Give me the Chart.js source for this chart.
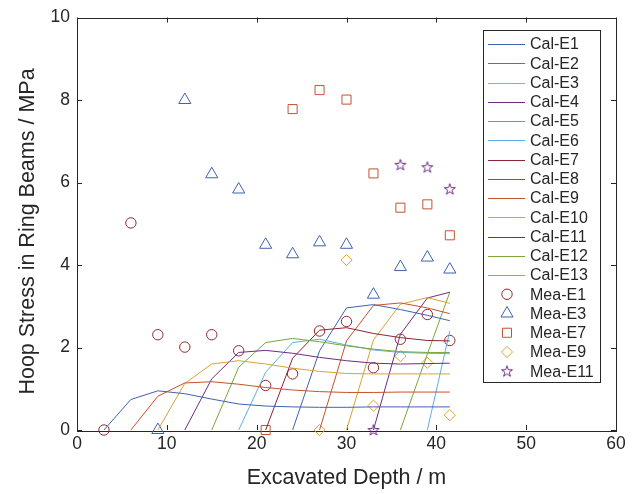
<!DOCTYPE html>
<html>
<head>
<meta charset="utf-8">
<script src="https://cdn.jsdelivr.net/npm/chart.js@4.4.1/dist/chart.umd.min.js"></script>
<style>
  html, body { margin: 0; padding: 0; background: #ffffff; }
  #wrap { width: 635px; height: 494px; }
</style>
</head>
<body>
<div id="wrap"><canvas id="c" width="635" height="494"></canvas></div>
<script>
// Excavation stages (m)
const depths = [3, 6, 9, 12, 15, 18, 21, 24, 27, 30, 33, 36, 39, 41.5];

// Calculated hoop stress (MPa) for each ring beam, aligned with depths
const calE1  = [0, 0.74, 0.95, 0.88, 0.75, 0.63, 0.58, 0.56, 0.55, 0.55, 0.56, 0.56, 0.56, 0.56];
const calE2  = [null, 0, 0.82, 1.14, 1.17, 1.11, 1.03, 0.97, 0.93, 0.91, 0.91, 0.92, 0.92, 0.92];
const calE3  = [null, null, 0, 1.13, 1.60, 1.68, 1.60, 1.50, 1.42, 1.37, 1.36, 1.36, 1.36, 1.36];
const calE4  = [null, null, null, 0, 1.24, 1.88, 1.93, 1.86, 1.76, 1.68, 1.62, 1.60, 1.61, 1.62];
const calE5  = [null, null, null, null, 0, 1.52, 2.12, 2.22, 2.14, 2.04, 1.96, 1.90, 1.88, 1.88];
const calE6  = [null, null, null, null, null, 0, 1.40, 2.12, 2.20, 2.06, 1.94, 1.88, 1.86, 1.85];
const calE7  = [null, null, null, null, null, null, 0, 1.74, 2.42, 2.48, 2.34, 2.24, 2.17, 2.16];
const calE8  = [null, null, null, null, null, null, null, 0, 1.92, 2.96, 3.04, 2.92, 2.78, 2.65];
const calE9  = [null, null, null, null, null, null, null, null, 0, 2.16, 3.02, 3.08, 2.96, 2.82];
const calE10 = [null, null, null, null, null, null, null, null, null, 0, 2.18, 3.05, 3.21, 3.07];
const calE11 = [null, null, null, null, null, null, null, null, null, null, 0, 2.32, 3.20, 3.34];
const calE12 = [null, null, null, null, null, null, null, null, null, null, null, 0, 1.84, 3.34];
const calE13 = [null, null, null, null, null, null, null, null, null, null, null, null, 0, 2.40];

// Measured hoop stress (MPa), aligned with depths
const meaE1  = [0, 5.02, 2.31, 2.01, 2.31, 1.92, 1.08, 1.36, 2.40, 2.63, 1.51, 2.20, 2.80, 2.17];
const meaE3  = [null, null, 0, 8.00, 6.20, 5.83, 4.49, 4.26, 4.55, 4.49, 3.28, 3.95, 4.18, 3.89];
const meaE7  = [null, null, null, null, null, null, 0, 7.78, 8.24, 8.01, 6.22, 5.39, 5.47, 4.72];
const meaE9  = [null, null, null, null, null, null, null, null, 0, 4.12, 0.59, 1.79, 1.63, 0.36];
const meaE11 = [null, null, null, null, null, null, null, null, null, null, 0, 6.43, 6.37, 5.84];

// Axis ticks
const xTicks = [0, 10, 20, 30, 40, 50, 60];
const yTicks = [0, 2, 4, 6, 8, 10];

const FONT = "'Liberation Sans', Arial, Helvetica, sans-serif";
const INK = '#262626';
const Y_TITLE = 'Hoop Stress in Ring Beams / MPa';

const palette = ['#3F62B0', '#C4532C', '#D9A330', '#6E2C83', '#7AA63A', '#5DAEE3', '#8E2330'];

function toPoints(values) {
  const pts = [];
  values.forEach((v, i) => { if (v !== null) pts.push({ x: depths[i], y: v }); });
  return pts;
}

// Five-point star marker
function makeStar(color) {
  const c = document.createElement('canvas');
  c.width = 14; c.height = 14;
  const g = c.getContext('2d');
  const R = 5.8, r = 2.3, cx = 7, cy = 7.4;
  g.beginPath();
  for (let k = 0; k < 10; k++) {
    const a = -Math.PI / 2 + k * Math.PI / 5;
    const rad = k % 2 === 0 ? R : r;
    const px = cx + rad * Math.cos(a), py = cy + rad * Math.sin(a);
    if (k === 0) g.moveTo(px, py); else g.lineTo(px, py);
  }
  g.closePath();
  g.strokeStyle = color;
  g.lineWidth = 1;
  g.stroke();
  return c;
}

const calSeries = [calE1, calE2, calE3, calE4, calE5, calE6, calE7, calE8, calE9, calE10, calE11, calE12, calE13];
const datasets = calSeries.map((vals, i) => ({
  label: 'Cal-E' + (i + 1),
  data: toPoints(vals),
  borderColor: palette[i % 7],
  backgroundColor: palette[i % 7],
  borderWidth: 1,
  pointRadius: 0,
  tension: 0,
  fill: false
}));

function measured(label, vals, color, style, radius) {
  return {
    label: label,
    data: toPoints(vals),
    showLine: false,
    borderColor: color,
    backgroundColor: 'rgba(0,0,0,0)',
    pointStyle: style,
    pointRadius: radius,
    pointHoverRadius: radius,
    pointBorderWidth: 1,
    pointBorderColor: color,
    pointBackgroundColor: 'rgba(0,0,0,0)',
    clip: false
  };
}

datasets.push(measured('Mea-E1', meaE1, '#8E2A2E', 'circle', 5.2));
datasets.push(measured('Mea-E3', meaE3, '#3F62B0', 'triangle', 7));
datasets.push(measured('Mea-E7', meaE7, '#C4532C', 'rect', 6.4));
datasets.push(measured('Mea-E9', meaE9, '#D9A330', 'rectRot', 5.6));
datasets.push(measured('Mea-E11', meaE11, '#6E2C83', makeStar('#6E2C83'), 6));

// Boxed axes with inward tick marks on all four sides, plus the y-axis title
const framePlugin = {
  id: 'frame',
  beforeDatasetsDraw(chart) {
    const { ctx, chartArea: a, scales } = chart;
    const L = 5;
    ctx.save();
    ctx.strokeStyle = INK;
    ctx.lineWidth = 1;
    ctx.beginPath();
    scales.x.ticks.forEach(t => {
      const px = Math.round(scales.x.getPixelForValue(t.value)) + 0.5;
      ctx.moveTo(px, a.bottom); ctx.lineTo(px, a.bottom - L);
      ctx.moveTo(px, a.top); ctx.lineTo(px, a.top + L);
    });
    scales.y.ticks.forEach(t => {
      const py = Math.round(scales.y.getPixelForValue(t.value)) + 0.5;
      ctx.moveTo(a.left, py); ctx.lineTo(a.left + L, py);
      ctx.moveTo(a.right, py); ctx.lineTo(a.right - L, py);
    });
    ctx.stroke();
    ctx.strokeRect(Math.round(a.left) + 0.5, Math.round(a.top) + 0.5,
                   Math.round(a.right - a.left), Math.round(a.bottom - a.top));

    ctx.translate(33.5, 231.5);
    ctx.rotate(-Math.PI / 2);
    ctx.fillStyle = INK;
    ctx.font = '21.5px ' + FONT;
    ctx.textAlign = 'center';
    ctx.textBaseline = 'alphabetic';
    ctx.fillText(Y_TITLE, 0, 0);
    ctx.restore();
  }
};

// Boxed legend in the upper right of the plot area
const legendPlugin = {
  id: 'boxLegend',
  afterDraw(chart) {
    const { ctx } = chart;
    const box = { left: 483.5, top: 30.5, right: 600.5, bottom: 382.5 };
    const firstRow = 44, step = 19.25;
    ctx.save();
    ctx.fillStyle = '#ffffff';
    ctx.fillRect(box.left, box.top, box.right - box.left, box.bottom - box.top);
    ctx.strokeStyle = INK;
    ctx.lineWidth = 1;
    ctx.strokeRect(box.left, box.top, box.right - box.left, box.bottom - box.top);
    chart.data.datasets.forEach((ds, i) => {
      const y = firstRow + i * step;
      if (ds.showLine === false) {
        ctx.strokeStyle = ds.pointBorderColor;
        ctx.fillStyle = 'rgba(0,0,0,0)';
        Chart.helpers.drawPoint(ctx, {
          pointStyle: ds.pointStyle,
          rotation: 0,
          radius: ds.pointRadius,
          borderWidth: 1
        }, 507, y);
      } else {
        ctx.strokeStyle = ds.borderColor;
        ctx.lineWidth = 1;
        ctx.beginPath();
        ctx.moveTo(488, Math.round(y) + 0.5);
        ctx.lineTo(525, Math.round(y) + 0.5);
        ctx.stroke();
      }
      ctx.fillStyle = INK;
      ctx.font = '16px ' + FONT;
      ctx.textBaseline = 'middle';
      ctx.textAlign = 'left';
      ctx.fillText(ds.label, 530, y + 1);
    });
    ctx.restore();
  }
};

new Chart(document.getElementById('c').getContext('2d'), {
  type: 'line',
  data: { datasets: datasets },
  options: {
    responsive: false,
    animation: false,
    devicePixelRatio: 1,
    events: [],
    layout: { padding: { left: 0, top: 15, right: 19, bottom: 0 } },
    plugins: {
      legend: { display: false },
      tooltip: { enabled: false }
    },
    scales: {
      x: {
        type: 'linear',
        min: xTicks[0],
        max: xTicks[xTicks.length - 1],
        afterBuildTicks(scale) { scale.ticks = xTicks.map(v => ({ value: v })); },
        ticks: { color: INK, font: { family: FONT, size: 17.5 }, padding: 4, maxRotation: 0, autoSkip: false },
        grid: { display: false, drawTicks: false },
        border: { display: false },
        title: {
          display: true, text: 'Excavated Depth / m', color: INK,
          font: { family: FONT, size: 21.5 }, padding: { top: 0, bottom: 3 }
        },
        afterFit(scale) { scale.height = 64; }
      },
      y: {
        type: 'linear',
        min: yTicks[0],
        max: yTicks[yTicks.length - 1],
        afterBuildTicks(scale) { scale.ticks = yTicks.map(v => ({ value: v })); },
        ticks: { color: INK, font: { family: FONT, size: 17.5 }, padding: 7, autoSkip: false },
        grid: { display: false, drawTicks: false },
        border: { display: false },
        title: { display: false },
        afterFit(scale) { scale.width = 77; }
      }
    }
  },
  plugins: [framePlugin, legendPlugin]
});
</script>
</body>
</html>
